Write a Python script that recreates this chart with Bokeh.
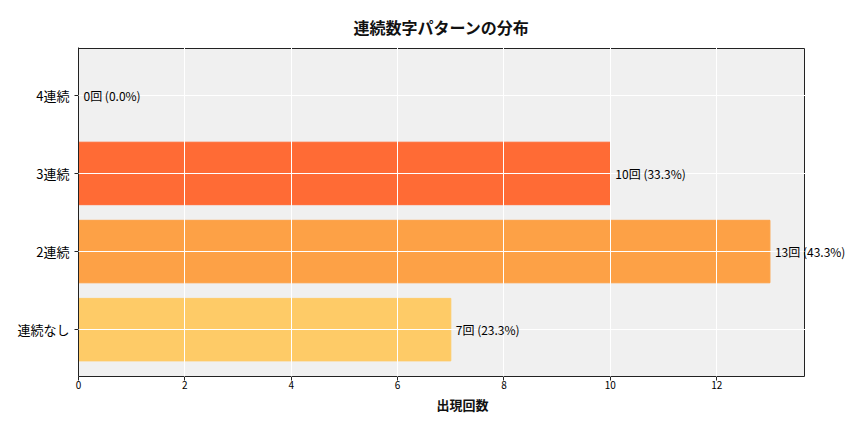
from bokeh.plotting import figure
from bokeh.models import Label, FixedTicker, Range1d
from bokeh.embed import file_html
from bokeh.resources import INLINE

categories = ["連続なし", "2連続", "3連続", "4連続"]
counts = [7, 13, 10, 0]
percents = [23.3, 43.3, 33.3, 0.0]
colors = ["#FECB67", "#FDA146", "#FF6B35", "#FF3B1F"]
x_ticks = [0, 2, 4, 6, 8, 10, 12]

FONT = "Noto Sans CJK JP"
SPINE = "#222222"

ypos = list(range(len(categories)))
xmax = max(counts) * 1.05           # visible axis extent (matplotlib-like margin)
ymin, ymax = -0.6, len(categories) - 0.4
# extra room on the right so value labels may run past the right spine
x_end = xmax * 768 / 726
# one pixel of headroom so the top spine is not clipped
y_end = ymax + (ymax - ymin) / 328

p = figure(width=848, height=416, output_backend="svg", toolbar_location=None,
           x_range=Range1d(0, x_end), y_range=Range1d(ymin, y_end),
           min_border_left=78, min_border_right=2, min_border_bottom=40, min_border_top=47)

p.background_fill_color = "white"
p.border_fill_color = "white"
p.outline_line_color = None

# axes background
p.quad(left=0, right=xmax, bottom=ymin, top=ymax, fill_color="#F0F0F0", line_color=None, level="underlay")

p.hbar(y=ypos, left=0, right=counts, height=0.8, color=colors)

for yy, c, pc in zip(ypos, counts, percents):
    p.add_layout(Label(x=c, y=yy, text=f"{c}回 ({pc:.1f}%)", x_offset=5,
                       text_baseline="middle", text_font_size="12px",
                       text_font=FONT, text_color="black"))

# right and top spines
p.segment(x0=xmax, x1=xmax, y0=ymin, y1=ymax, line_color=SPINE, line_width=1, level="guide")
p.segment(x0=0, x1=xmax, y0=ymax, y1=ymax, line_color=SPINE, line_width=1, level="guide")

p.title.text = "連続数字パターンの分布"
p.title.align = "left"
p.title.offset = 275
p.title.text_font = FONT
p.title.text_font_size = "16px"
p.title.text_font_style = "bold"
p.title.text_color = "#111111"
p.title.standoff = 18

p.xaxis.ticker = FixedTicker(ticks=x_ticks)
p.yaxis.ticker = FixedTicker(ticks=ypos)
p.yaxis.major_label_overrides = {i: c for i, c in enumerate(categories)}
xa = p.xaxis[0]
xa.bounds = (0, xmax)
xa.axis_label = "出現回数"
xa.axis_label_text_font = FONT
xa.axis_label_text_font_size = "13px"
xa.axis_label_text_font_style = "bold"
xa.axis_label_text_color = "#111111"
xa.axis_label_standoff = 3
xa.major_label_standoff = 0
xa.major_label_text_font = FONT
xa.major_label_text_font_size = "10px"
ya = p.yaxis[0]
ya.major_label_text_font = FONT
ya.major_label_text_font_size = "13px"
for ax in (xa, ya):
    ax.minor_tick_line_color = None
    ax.major_tick_out = 4
    ax.major_tick_in = 0
    ax.axis_line_color = SPINE
    ax.major_tick_line_color = SPINE
    ax.major_label_text_color = "black"

p.grid.grid_line_color = "white"
p.grid.grid_line_width = 1
p.grid.level = "guide"

open("out.html", "w").write(file_html(p, INLINE))
